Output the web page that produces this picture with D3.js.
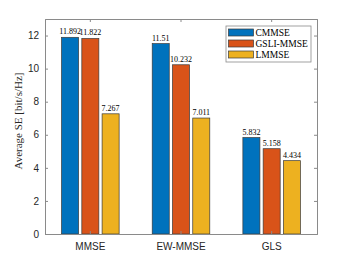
<!DOCTYPE html>
<html>
<head>
<meta charset="utf-8">
<script src="https://cdn.jsdelivr.net/npm/d3@7"></script>
<style>
  body { margin: 0; background: #fff; }
  .tick text { font-family: "Liberation Sans", Arial, sans-serif; font-size: 10px; fill: #262626; }
  .serif { font-family: "Liberation Serif", "Times New Roman", serif; }
</style>
</head>
<body>
<div id="chart"></div>
<script>
// chart data
const categories = ['MMSE', 'EW-MMSE', 'GLS'];
const seriesNames = ['CMMSE', 'GSLI-MMSE', 'LMMSE'];
const cmmse = [11.892, 11.51, 5.832];
const gsli = [11.822, 10.232, 5.158];
const lmmse = [7.267, 7.011, 4.434];
const valueLabels = [['11.892', '11.51', '5.832'], ['11.822', '10.232', '5.158'], ['7.267', '7.011', '4.434']];
const yTicks = [0, 2, 4, 6, 8, 10, 12];
const colors = ['#0072BD', '#D95319', '#EDB120'];

const series = [cmmse, gsli, lmmse];

const width = 350, height = 263;
const margin = { left: 45, right: 33, top: 19, bottom: 29 };
const innerW = width - margin.left - margin.right;
const innerH = height - margin.top - margin.bottom;

const svg = d3.select('#chart').append('svg')
    .attr('width', width)
    .attr('height', height);

const g = svg.append('g').attr('transform', `translate(${margin.left},${margin.top})`);

const x = d3.scaleBand().domain(categories).range([0, innerW]).paddingInner(0).paddingOuter(0);
const xSub = d3.scaleBand().domain(d3.range(series.length)).range([x.bandwidth() * 0.1825, x.bandwidth() * 0.8175]).paddingInner(0.16);
const y = d3.scaleLinear().domain([0, 13]).range([innerH, 0]);

// bars
series.forEach((vals, si) => {
    g.selectAll(`.bar-${si}`)
        .data(vals)
        .enter().append('rect')
        .attr('x', (d, i) => x(categories[i]) + xSub(si))
        .attr('y', d => y(d))
        .attr('width', xSub.bandwidth())
        .attr('height', d => y(0) - y(d))
        .attr('fill', colors[si])
        .attr('stroke', '#3a3a3a')
        .attr('stroke-width', 0.7);

    g.selectAll(`.lbl-${si}`)
        .data(vals)
        .enter().append('text')
        .attr('class', 'serif')
        .attr('x', (d, i) => x(categories[i]) + xSub(si) + xSub.bandwidth() / 2)
        .attr('y', d => y(d) - 3)
        .attr('text-anchor', 'middle')
        .attr('font-size', 8)
        .attr('fill', '#000')
        .text((d, i) => valueLabels[si][i]);
});

// axes
const yAxis = d3.axisLeft(y).tickValues(yTicks).tickSize(-3).tickPadding(6);
const yAxisR = d3.axisRight(y).tickValues(yTicks).tickSize(-3).tickFormat('');
const xAxis = d3.axisBottom(x).tickSize(-3).tickPadding(9);
const xAxisT = d3.axisTop(x).tickSize(-3).tickFormat('');

function styleAxis(sel) {
    sel.select('.domain').attr('stroke', '#8a8a8a').attr('stroke-width', 1);
    sel.selectAll('.tick line').attr('stroke', '#8a8a8a');
}

g.append('g').call(yAxis).call(styleAxis);
g.append('g').attr('transform', `translate(${innerW},0)`).call(yAxisR).call(styleAxis);
g.append('g').attr('transform', `translate(0,${innerH})`).call(xAxis).call(styleAxis);
g.append('g').call(xAxisT).call(styleAxis);

// y label
svg.append('text')
    .attr('class', 'serif')
    .attr('transform', `translate(22,121) rotate(-90)`)
    .attr('text-anchor', 'middle')
    .attr('font-size', 11)
    .attr('fill', '#262626')
    .text('Average SE [bit/s/Hz]');

// legend
const legend = g.append('g').attr('transform', `translate(${226 - margin.left},${26 - margin.top})`);
legend.append('rect')
    .attr('width', 85).attr('height', 36)
    .attr('fill', '#fff').attr('stroke', '#8a8a8a').attr('stroke-width', 0.8);
seriesNames.forEach((name, i) => {
    legend.append('rect')
        .attr('x', 2.5).attr('y', 3 + i * 11)
        .attr('width', 25).attr('height', 7)
        .attr('fill', colors[i]).attr('stroke', '#3a3a3a').attr('stroke-width', 0.7);
    legend.append('text')
        .attr('class', 'serif')
        .attr('x', 29.5).attr('y', 6.5 + i * 11)
        .attr('dy', '0.35em')
        .attr('font-size', 9.5)
        .attr('fill', '#000')
        .text(name);
});
</script>
</body>
</html>
